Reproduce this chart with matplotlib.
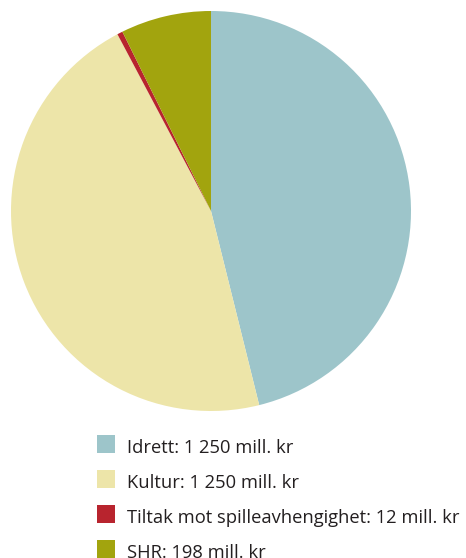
import matplotlib
matplotlib.use("Agg")
import matplotlib.pyplot as plt
from matplotlib.patches import Rectangle

categories = ["Idrett", "Kultur", "Tiltak mot spilleavhengighet", "SHR"]
values = [1250, 1250, 12, 198]
colors = ["#9dc5ca", "#ede5a9", "#b8242e", "#a2a40e"]

plt.rcParams['font.family'] = ['Open Sans', 'DejaVu Sans']

W, H = 466, 558
fig = plt.figure(figsize=(W / 100, H / 100), dpi=100)
cx, cy, r = 211, 211, 200
ax = fig.add_axes([(cx - r) / W, (H - cy - r) / H, 2 * r / W, 2 * r / H])
ax.pie(values, colors=colors, startangle=90, counterclock=False,
       wedgeprops=dict(linewidth=0))
ax.set_aspect('equal')
ax.set_xlim(-1, 1)
ax.set_ylim(-1, 1)
ax.axis('off')

def fmt(v):
    return f"{v:,}".replace(",", " ")

labels = [f"{c}: {fmt(v)} mill. kr" for c, v in zip(categories, values)]

# legend drawn in pixel coordinates
x0, y0, step, sq = 97, 435, 35, 17.5
for i, (lab, col) in enumerate(zip(labels, colors)):
    top = y0 + i * step
    fig.patches.append(Rectangle((x0 / W, 1 - (top + sq) / H), sq / W, sq / H,
                                 transform=fig.transFigure, facecolor=col,
                                 edgecolor='none'))
    fig.text(127 / W, 1 - (top + sq + 0.5) / H, lab, fontsize=13.2,
             color='#231f20', ha='left', va='baseline')

fig.savefig("out.png", dpi=100)
